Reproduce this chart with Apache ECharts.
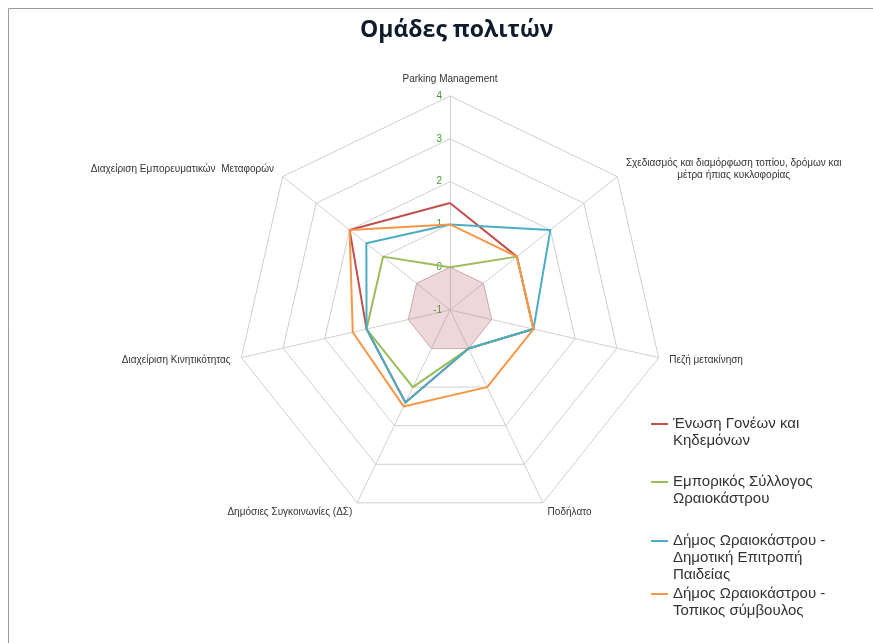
<!DOCTYPE html>
<html>
<head>
<meta charset="utf-8">
<script src="https://cdn.jsdelivr.net/npm/echarts@6/dist/echarts.min.js"></script>
<style>
html,body{margin:0;padding:0;background:#fff;}
#c{width:873px;height:643px;}
</style>
</head>
<body>
<div id="c"></div>
<script>
// Axes, counter-clockwise from the top (ECharts radar order)
var indicators = [
  'Parking Management',
  'Διαχείριση Εμπορευματικών  Μεταφορών',
  'Διαχείριση Κινητικότητας',
  'Δημόσιες Συγκοινωνίες (ΔΣ)',
  'Ποδήλατο',
  'Πεζή μετακίνηση',
  'Σχεδιασμός και διαμόρφωση τοπίου, δρόμων και\nμέτρα ήπιας κυκλοφορίας'
];
var seriesNames = [
  'Ένωση Γονέων και\nΚηδεμόνων',
  'Εμπορικός Σύλλογος\nΩραιοκάστρου',
  'Δήμος Ωραιοκάστρου -\nΔημοτική Επιτροπή\nΠαιδείας',
  'Δήμος Ωραιοκάστρου -\nΤοπικος σύμβουλος'
];
var parents   = [1.5, 2,   1,    1.4, 0, 1, 1];
var merchants = [0,   1,   1,    1,   0, 1, 1];
var education = [1,   1.5, 1,    1.4, 0, 1, 2];
var councillor= [1,   2,   1.33, 1.5, 1, 1, 1];
var baseline  = [0,   0,   0,    0,   0, 0, 0];
var axisMin = -1, axisMax = 4;

var colors = ['#c0504d', '#9bbb59', '#4bacc6', '#f79646'];
var values = [parents, merchants, education, councillor];

var nameStyles = [
  {verticalAlign: 'bottom'},
  {verticalAlign: 'middle'},
  {verticalAlign: 'middle'},
  {verticalAlign: 'middle'},
  {verticalAlign: 'middle'},
  {verticalAlign: 'middle'},
  {verticalAlign: 'middle'}
];

var indicatorOpts = indicators.map(function (n, i) {
  var o = {name: n, min: axisMin, max: axisMax, nameTextStyle: nameStyles[i]};
  if (i === 0) {
    o.axisLabel = {show: true, color: '#3f9a35', fontSize: 10, margin: 8, fontFamily: 'Liberation Sans'};
  }
  return o;
});

var seriesData = values.map(function (v, i) {
  return {
    name: seriesNames[i],
    value: v,
    symbol: 'none',
    lineStyle: {color: colors[i], width: 2},
    itemStyle: {color: colors[i]}
  };
});

var chart = echarts.init(document.getElementById('c'));

// first-line centre y and number of lines of each legend entry
var legendTops = [[424, 2], [482, 2], [541, 3], [594, 2]];
var LH = 17;
var legends = seriesNames.map(function (n, i) {
  var firstY = legendTops[i][0], lines = legendTops[i][1];
  var h = lines * LH;
  var icon = 'path://M0,7.5H17V9.5H0Z M0,0H0.01V0.01H0Z M0,' + (h - 0.01) + 'H0.01V' + h + 'H0Z';
  return {
    data: [{name: n, icon: icon}],
    orient: 'vertical',
    left: 651,
    top: firstY - LH / 2,
    padding: 0,
    itemWidth: 17,
    itemHeight: h,
    itemGap: 0,
    itemStyle: {borderWidth: 0},
    selectedMode: false,
    textStyle: {
      fontFamily: 'Liberation Sans',
      fontSize: 15,
      lineHeight: LH,
      color: '#333'
    }
  };
});

chart.setOption({
  animation: false,
  title: {
    text: 'Ομάδες πολιτών',
    left: 355,
    top: 14,
    textStyle: {fontFamily: 'Open Sans', fontWeight: 'bold', fontSize: 23, color: '#0e1b2c'}
  },
  graphic: [{
    type: 'rect',
    shape: {x: 8.5, y: 8.5, width: 900, height: 700},
    style: {fill: 'none', stroke: '#9a9a9a', lineWidth: 1},
    silent: true
  }],
  legend: legends,
  radar: {
    center: [450, 310],
    radius: 214,
    startAngle: 90,
    splitNumber: 5,
    shape: 'polygon',
    nameGap: 11,
    axisName: {
      color: '#333', fontSize: 10, fontFamily: 'Liberation Sans',
      formatter: function (name) {
        return name.split('\n').map(function (l) { return '{c|' + l + '}'; }).join('\n');
      },
      rich: {c: {align: 'center', fontSize: 10, lineHeight: 12, color: '#333', fontFamily: 'Liberation Sans'}}
    },
    axisLine: {lineStyle: {color: '#d0d0d0', width: 1}},
    splitLine: {lineStyle: {color: '#cfcfcf', width: 1}},
    splitArea: {show: false},
    axisTick: {show: false},
    axisLabel: {show: false},
    indicator: indicatorOpts
  },
  series: [{
    type: 'radar',
    z: 1,
    silent: true,
    data: [{
      name: 'base',
      value: baseline,
      symbol: 'none',
      lineStyle: {width: 1, color: 'rgba(200,130,140,0.3)'},
      areaStyle: {color: 'rgba(195,110,125,0.4)'}
    }]
  }, {
    type: 'radar',
    z: 3,
    data: seriesData
  }]
});
</script>
</body>
</html>
